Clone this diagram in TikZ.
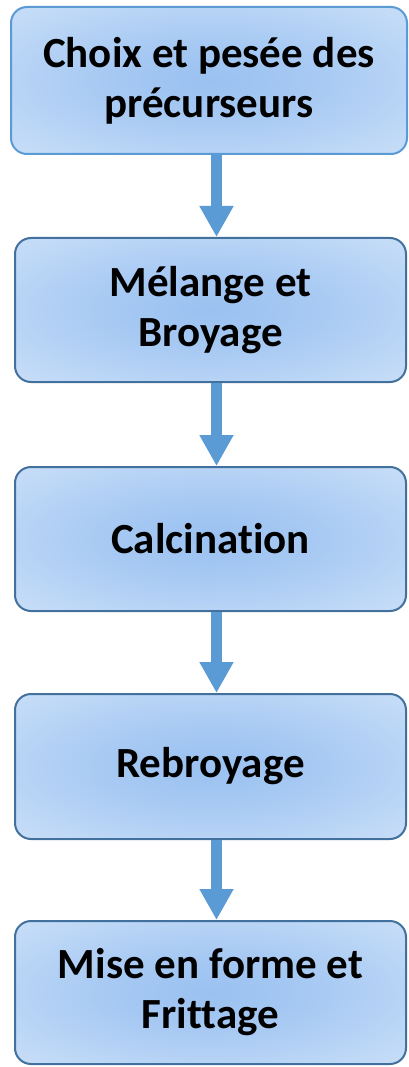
\documentclass[tikz,border=0pt]{standalone}
\usepackage{fontspec}
\setmainfont{Carlito}[Ligatures=NoCommon]
\usetikzlibrary{arrows.meta,calc}
\definecolor{gradin}{RGB}{154,193,241}
\definecolor{gradout}{RGB}{222,236,251}
\definecolor{edgeA}{RGB}{91,155,213}
\definecolor{edgeB}{RGB}{65,113,156}
\definecolor{arrowcol}{RGB}{91,155,213}
\pgfdeclareradialshading{boxglow}{\pgfpoint{0bp}{0bp}}{%
  color(0bp)=(gradin); color(14bp)=(gradin!80!gradout); color(50bp)=(gradout); color(72bp)=(gradout)}
\begin{document}
\begin{tikzpicture}[x=1pt,y=-1pt,
  stepbox/.style={rectangle, rounded corners=16pt, line width=2pt, draw=edgeB,
    shading=boxglow, align=center, inner sep=0pt,
    font=\fontsize{43}{50}\selectfont\bfseries},
  flowarrow/.style={draw=arrowcol, line width=11pt,
    -{Triangle[width=32pt,length=31pt]}}]
\useasboundingbox (0,0) rectangle (409,1067);
\fill[white] (0,0) rectangle (409,1067);
\node[stepbox, draw=edgeA, minimum width=396pt, minimum height=147pt] (b1) at (209,80.5)
  {Choix et pesée des\\précurseurs};
\node[stepbox, minimum width=391pt, minimum height=144pt] (b2) at (210.5,310)
  {Mélange et\\Broyage};
\node[stepbox, minimum width=391pt, minimum height=144pt] (b3) at (210.5,539)
  {Calcination};
\node[stepbox, minimum width=391pt, minimum height=145pt] (b4) at (210.5,766.5)
  {Rebroyage};
\node[stepbox, minimum width=391pt, minimum height=143pt] (b5) at (210.5,992.5)
  {Mise en forme et\\Frittage};
\coordinate (ax) at (216.5,0);
\draw[flowarrow] (b1.south -| ax) -- (b2.north -| ax);
\draw[flowarrow] (b2.south -| ax) -- (b3.north -| ax);
\draw[flowarrow] (b3.south -| ax) -- (b4.north -| ax);
\draw[flowarrow] (b4.south -| ax) -- (b5.north -| ax);
\end{tikzpicture}
\end{document}
